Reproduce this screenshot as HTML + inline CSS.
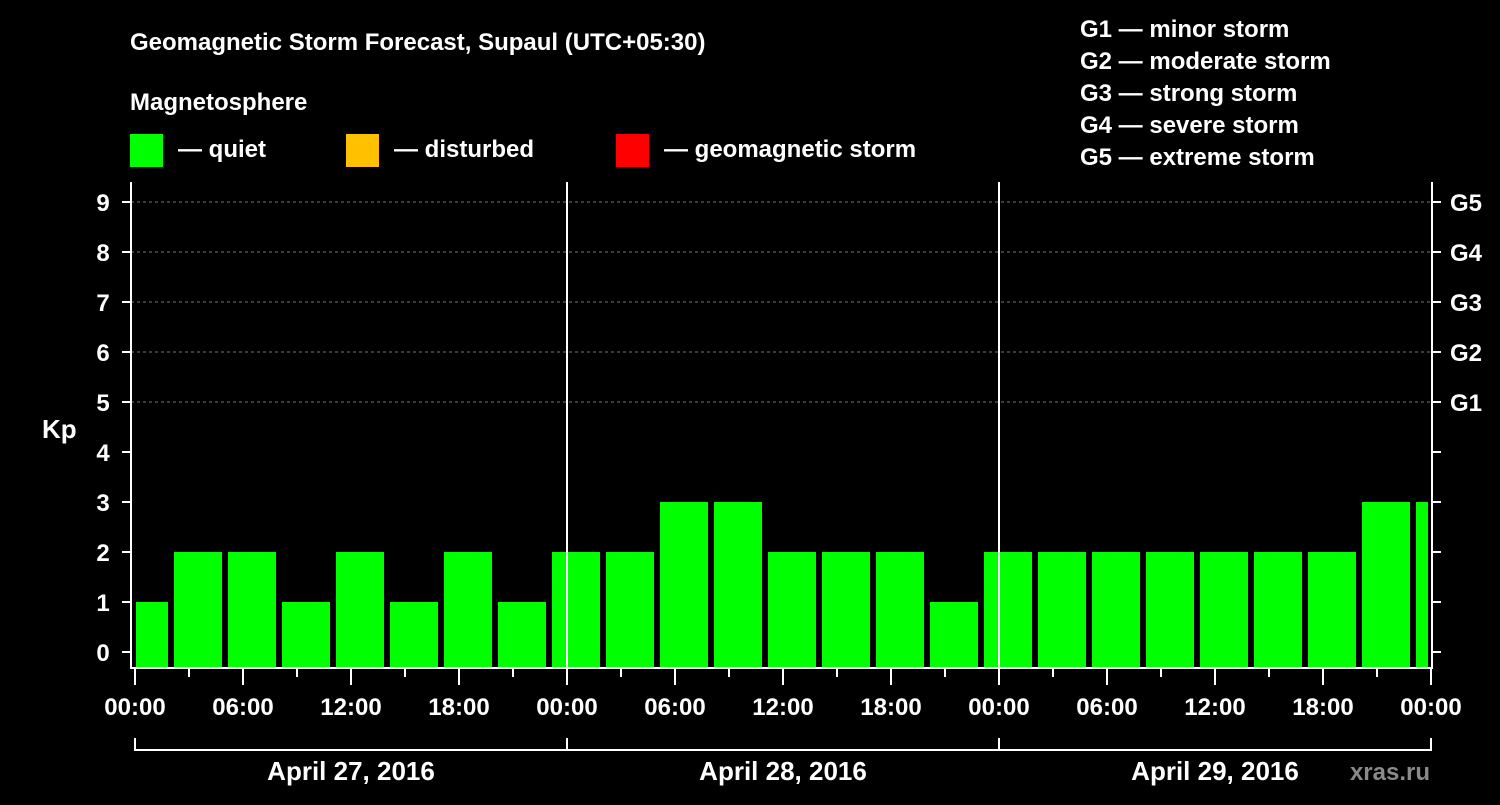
<!DOCTYPE html>
<html><head><meta charset="utf-8"><style>
body{margin:0;background:#000;width:1500px;height:800px;overflow:hidden}
svg text{font-family:"Liberation Sans",sans-serif;font-weight:bold;fill:#fff}
</style></head><body>
<svg id="c" width="1500" height="800">
<text x="130" y="50" font-size="24">Geomagnetic Storm Forecast, Supaul (UTC+05:30)</text>
<text x="130" y="110" font-size="24">Magnetosphere</text>
<rect x="130" y="134" width="33" height="33" fill="#00ff00"/>
<text x="178" y="157" font-size="24">— quiet</text>
<rect x="346" y="134" width="33" height="33" fill="#ffc000"/>
<text x="394" y="157" font-size="24">— disturbed</text>
<rect x="616" y="134" width="33" height="33" fill="#ff0000"/>
<text x="664" y="157" font-size="24">— geomagnetic storm</text>
<g font-size="24">
<text x="1080" y="37">G1 — minor storm</text>
<text x="1080" y="69">G2 — moderate storm</text>
<text x="1080" y="101">G3 — strong storm</text>
<text x="1080" y="133">G4 — severe storm</text>
<text x="1080" y="165">G5 — extreme storm</text>
</g>
<text x="42" y="438" font-size="26">Kp</text>
<text x="1430" y="780" font-size="24" fill="#888" style="fill:#8a8a8a" text-anchor="end">xras.ru</text>
<g id="plot"></g>
</svg>
<script>
const kpValues=[1,2,2,1,2,1,2,1,2,2,3,3,2,2,2,1,2,2,2,2,2,2,2,3,3];
const binCenterHours=[0.5,3.5,6.5,9.5,12.5,15.5,18.5,21.5,24.5,27.5,30.5,33.5,36.5,39.5,42.5,45.5,48.5,51.5,54.5,57.5,60.5,63.5,66.5,69.5,72.5];
const dayLabels=["April 27, 2016","April 28, 2016","April 29, 2016"];
const gLabels=["G1","G2","G3","G4","G5"];
const timeLabels=["00:00","06:00","12:00","18:00"];
const NS="http://www.w3.org/2000/svg";
const g=document.getElementById('plot');
const X=h=>135+h*18;
const Y=v=>652-v*50;
const L=131,R=1432,T=182,B=668;
function mk(t,a,txt){const e=document.createElementNS(NS,t);for(const k in a)e.setAttribute(k,a[k]);if(txt!==undefined)e.textContent=txt;g.appendChild(e);return e;}
const defs=mk('clipPath',{id:'clp'});const cr=document.createElementNS(NS,'rect');cr.setAttribute('x',136);cr.setAttribute('y',0);cr.setAttribute('width',1292);cr.setAttribute('height',800);defs.appendChild(cr);
for(let v=5;v<=9;v++){const e=mk('line',{x1:L,x2:R,y1:Y(v),y2:Y(v),stroke:'#777','stroke-dasharray':'3,3'});

}
kpValues.forEach((v,i)=>{const c=X(binCenterHours[i]);const col=v>=5?'#ff0000':(v>=4?'#ffc000':'#00ff00');
const r=mk('rect',{x:c-24,y:Y(v),width:48,height:B-1-Y(v),fill:col,'clip-path':'url(#clp)'});

});
for(let d=1;d<=2;d++){const e=mk('line',{x1:X(24*d),x2:X(24*d),y1:T,y2:B,stroke:'#fff','stroke-width':2});

}
const ax=mk('path',{d:`M${L} ${T}V${B}H${R}V${T}`,fill:'none',stroke:'#fff','stroke-width':2});


for(let v=0;v<=9;v++){
mk('line',{x1:L-9,x2:L,y1:Y(v),y2:Y(v),stroke:'#fff','stroke-width':2});
mk('line',{x1:R,x2:R+9,y1:Y(v),y2:Y(v),stroke:'#fff','stroke-width':2});
const t=mk('text',{x:103,y:Y(v)+9,'font-size':24,'text-anchor':'middle'},String(v));

}
gLabels.forEach((s,i)=>{const t=mk('text',{x:1450,y:Y(5+i)+9,'font-size':24},s);

});
for(let h=0;h<=72;h+=3){const maj=h%6==0;mk('line',{x1:X(h),x2:X(h),y1:B,y2:B+(maj?17:9),stroke:'#fff','stroke-width':2});}
for(let h=0;h<=72;h+=6){const t=mk('text',{x:X(h),y:715,'font-size':24,'text-anchor':'middle'},timeLabels[(h/6)%4]);

}
dayLabels.forEach((s,i)=>{const x0=X(24*i),x1=X(24*(i+1));
const b=mk('path',{d:`M${x0} 738V750H${x1}V738`,fill:'none',stroke:'#fff','stroke-width':2});


const t=mk('text',{x:(x0+x1)/2,y:780,'font-size':26,'text-anchor':'middle'},s);

});
</script>
</body></html>
